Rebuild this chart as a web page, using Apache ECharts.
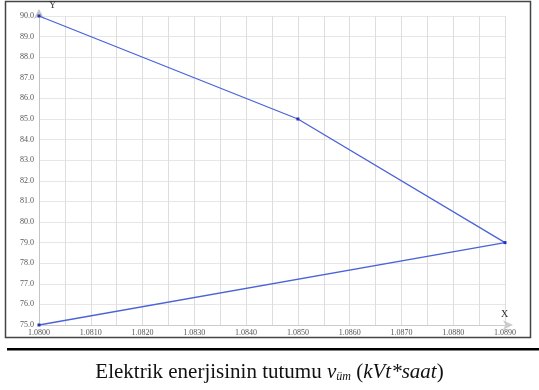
<!DOCTYPE html>
<html><head><meta charset="utf-8">
<script src="https://cdn.jsdelivr.net/npm/echarts@6/dist/echarts.min.js"></script>
<style>html,body{margin:0;padding:0;background:#fff}#c{width:539px;height:390px}</style>
</head><body><div id="c"></div>
<script>
const xValues = [1.0800, 1.0850, 1.0890, 1.0800];
const yValues = [90.0, 85.0, 79.0, 75.0];
const xTicks = [1.0800, 1.0810, 1.0820, 1.0830, 1.0840, 1.0850, 1.0860, 1.0870, 1.0880, 1.0890];
const yTicks = [75, 76, 77, 78, 79, 80, 81, 82, 83, 84, 85, 86, 87, 88, 89, 90];
const xName = 'X';
const yName = 'Y';

const chart = echarts.init(document.getElementById('c'), null, {renderer: 'canvas'});
const labelFont = {color: '#555', fontSize: 8, fontFamily: 'Liberation Serif'};
chart.setOption({
  animation: false,
  grid: {left: 39, right: 34, top: 16, bottom: 65, containLabel: false},
  xAxis: {
    type: 'value', min: xTicks[0], max: xTicks[xTicks.length - 1], interval: 0.001,
    name: xName, nameLocation: 'end', nameGap: -4,
    nameTextStyle: {color: '#333', fontSize: 10, fontFamily: 'Liberation Serif', verticalAlign: 'bottom', padding: [0, 0, 6, 0]},
    axisLine: {show: true, lineStyle: {color: '#ccc', width: 1}, symbol: ['none', 'arrow'], symbolSize: [7, 10], symbolOffset: [0, 8]},
    axisTick: {show: false},
    axisLabel: Object.assign({margin: 4, formatter: v => v.toFixed(4)}, labelFont),
    splitLine: {show: true, lineStyle: {color: '#ddd', width: 1}},
    minorTick: {show: false, splitNumber: 2},
    minorSplitLine: {show: true, lineStyle: {color: '#ddd', width: 1}}
  },
  yAxis: {
    type: 'value', min: yTicks[0], max: yTicks[yTicks.length - 1], interval: 1,
    name: yName, nameLocation: 'end', nameGap: 6,
    nameTextStyle: {color: '#333', fontSize: 10, fontFamily: 'Liberation Serif', align: 'left', padding: [0, 0, 0, 10]},
    axisLine: {show: true, lineStyle: {color: '#c4c4c4', width: 1}, symbol: ['none', 'arrow'], symbolSize: [8, 10], symbolOffset: [0, 7]},
    axisTick: {show: false},
    axisLabel: Object.assign({margin: 5, formatter: v => v.toFixed(1)}, labelFont),
    splitLine: {show: true, lineStyle: {color: '#e6e6e6', width: 1}}
  },
  series: [{
    type: 'line',
    data: xValues.map((x, i) => [x, yValues[i]]),
    symbol: 'rect', symbolSize: 3, showSymbol: true,
    lineStyle: {color: '#4a63d8', width: 1.3},
    itemStyle: {color: '#2233bb'}
  }],
  title: {
    text: '{a|Elektrik enerjisinin tutumu }{i|v}{s|üm}{a| (}{i|kVt*saat}{a|)}',
    left: 'center', top: 356,
    textStyle: {
      fontWeight: 'normal',
      rich: {
        a: {fontFamily: 'Liberation Serif', fontSize: 21, fontWeight: 'normal', color: '#111'},
        i: {fontFamily: 'Liberation Serif', fontSize: 21, fontWeight: 'normal', fontStyle: 'italic', color: '#111'},
        s: {fontFamily: 'Liberation Serif', fontSize: 12, fontWeight: 'normal', fontStyle: 'italic', color: '#111', padding: [10, 0, 0, 0]}
      }
    }
  },
  graphic: [
    {type: 'rect', shape: {x: 5.5, y: 1.5, width: 525, height: 336}, style: {fill: 'none', stroke: '#444', lineWidth: 1.5}, silent: true, z: -1},
    {type: 'rect', shape: {x: 7, y: 348, width: 532, height: 2.5}, style: {fill: '#000'}, silent: true}
  ]
});
</script></body></html>
